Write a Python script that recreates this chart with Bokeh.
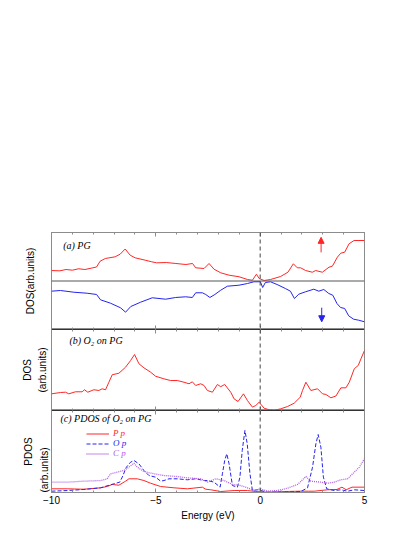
from math import pi
from bokeh.plotting import figure
from bokeh.models import (Range1d, LinearAxis, SingleIntervalTicker, FixedTicker, Span, Label,
                          Arrow, NormalHead, Legend, LegendItem, Title)
from bokeh.layouts import column
from bokeh.embed import file_html
from bokeh.resources import INLINE

# ---------------- data ----------------
energy_range = (-10, 5)
tick_labels = {-10: "\u221210", -5: "\u22125", 0: "0", 5: "5"}

# (a) pristine graphene, spin up / spin down DOS (arb. units)
a_up_E = [-10.0, -9.6, -9.3, -9.0, -8.7, -8.4, -8.1, -7.84, -7.67, -7.42, -6.95, -6.71, -6.47,
          -6.23, -5.99, -5.51, -5.2, -4.96, -4.5, -4.04, -3.56, -3.24, -3.09, -2.69, -2.45,
          -2.21, -1.89, -1.49, -1.01, -0.61, -0.37, -0.18, -0.05, 0.19, 0.5, 0.98, 1.33, 1.59,
          1.78, 1.94, 2.18, 2.5, 2.66, 2.98, 3.3, 3.46, 3.7, 3.86, 4.05, 4.26, 4.5, 5.0]
a_up = [2.16, 2.10, 2.37, 2.23, 2.52, 2.37, 2.64, 2.89, 4.08, 4.64, 4.99, 5.53, 6.60,
        5.32, 4.78, 4.29, 3.96, 3.75, 3.81, 3.61, 3.40, 3.61, 2.72, 2.58, 3.61,
        2.43, 1.69, 1.20, 0.87, 0.31, 0.16, 1.40, 0.52, 0.10, 0.31, 0.93, 1.81, 3.55,
        2.72, 2.72, 2.16, 1.81, 2.16, 1.81, 2.85, 3.05, 4.91, 5.73, 5.94, 7.67, 8.35, 8.35]
a_dn_E = [-10.0, -9.57, -8.93, -8.29, -7.84, -7.65, -7.17, -6.69, -6.45, -6.2, -5.73, -5.17,
          -4.53, -4.05, -3.57, -3.25, -3.09, -2.77, -2.61, -2.41, -2.17, -1.89, -1.57, -1.02,
          -0.61, -0.3, 0.01, 0.12, 0.25, 0.49, 0.81, 1.21, 1.45, 1.64, 1.85, 2.17, 2.57, 2.81,
          3.05, 3.29, 3.48, 3.68, 3.85, 4.05, 4.24, 4.48, 4.72, 5.0]
a_dn = [-2.10, -1.96, -2.31, -2.52, -2.78, -3.88, -4.58, -5.53, -6.43, -5.26, -4.37, -3.46,
        -3.75, -3.40, -3.26, -3.40, -2.43, -2.43, -2.78, -3.40, -2.78, -1.90, -1.07, -0.87,
        -0.52, -0.16, -0.16, -1.34, -0.31, -0.16, -0.72, -1.55, -2.10, -3.61, -2.72, -2.23,
        -1.69, -2.10, -1.75, -2.58, -2.93, -4.64, -5.46, -5.67, -7.18, -7.88, -8.08, -8.41]

# (b) O2 on PG, total DOS
b_E = [-10.0, -9.57, -9.33, -9.17, -8.85, -8.53, -8.42, -8.26, -7.97, -7.73, -7.57, -7.41,
       -7.25, -7.09, -6.77, -6.45, -6.21, -6.02, -5.81, -5.57, -5.25, -5.01, -4.61, -4.29,
       -3.97, -3.65, -3.41, -3.25, -3.09, -2.85, -2.69, -2.53, -2.29, -2.05, -1.89, -1.7,
       -1.41, -1.25, -1.06, -0.8, -0.61, -0.37, -0.21, -0.05, 0.19, 0.43, 0.67, 0.99, 1.31,
       1.63, 1.92, 2.03, 2.19, 2.43, 2.75, 2.99, 3.15, 3.39, 3.63, 3.87, 4.11, 4.27, 4.51,
       4.7, 4.83, 5.0]
b_dos = [2.06, 2.22, 2.26, 2.06, 2.31, 2.31, 2.56, 2.26, 2.56, 2.47, 2.68, 2.56,
         3.49, 4.41, 4.60, 5.35, 6.17, 6.91, 5.77, 5.27, 4.73, 4.23, 3.91, 3.70,
         3.70, 3.49, 3.30, 3.54, 3.09, 3.30, 3.09, 2.47, 2.26, 3.21, 2.94, 3.21,
         2.26, 1.44, 1.11, 2.06, 1.23, 0.41, 0.62, 1.02, 0.28, 0.09, 0.02, 0.21, 0.49,
         0.90, 1.64, 2.47, 3.49, 2.47, 2.68, 2.06, 1.98, 1.57, 1.79, 2.80, 2.80, 3.49, 5.15,
         5.56, 6.38, 7.41]

# (c) PDOS of O2 on PG
c_P_E = [-10.0, -9.25, -8.45, -7.65, -7.33, -7.09, -6.77, -6.45, -6.29, -5.89, -5.57, -5.25,
         -4.77, -4.13, -3.49, -2.77, -2.61, -2.37, -1.89, -1.25, -0.61, -0.21, 0.35, 1.15,
         1.95, 2.59, 3.23, 3.68, 3.92, 4.12, 4.4, 5.0]
c_P = [0.45, 0.45, 0.40, 0.57, 0.73, 0.98, 0.89, 1.38, 1.67, 1.67, 1.46, 1.13,
       0.73, 0.57, 0.45, 0.65, 0.40, 0.33, 0.12, 0.24, 0.24, 0.12, 0.04, 0.12,
       0.16, 0.16, 0.33, 0.37, 0.65, 0.33, 0.65, 0.65]
c_O_E = [-10.0, -9.25, -8.45, -7.65, -7.01, -6.73, -6.61, -6.41, -6.21, -6.05, -5.81, -5.57,
         -5.33, -5.01, -4.77, -4.61, -4.37, -3.97, -3.49, -3.09, -2.69, -2.53, -2.21, -1.92,
         -1.81, -1.7, -1.6, -1.49, -1.33, -1.09, -0.97, -0.86, -0.73, -0.62, -0.49, -0.37,
         -0.13, 0.03, 0.35, 1.15, 1.95, 2.27, 2.51, 2.67, 2.78, 2.91, 3.03, 3.19, 3.55, 3.87,
         4.19, 4.51, 5.0]
c_O = [0.16, 0.24, 0.37, 0.57, 1.06, 1.26, 1.87, 3.09, 3.70, 3.90, 3.50, 2.68,
       2.07, 1.87, 1.38, 1.46, 1.67, 1.67, 1.55, 1.67, 1.46, 1.46, 1.26, 0.65,
       2.28, 3.90, 4.72, 3.50, 0.85, 0.65, 1.87, 5.12, 7.56, 5.94, 2.28, 0.24,
       0.33, 0.24, 0.04, 0.04, 0.12, 0.57, 3.09, 5.94, 7.07, 5.52, 1.87, 0.45, 0.24, 0.33,
       0.16, 0.33, 0.24]
c_C_E = [-10.0, -9.25, -8.45, -7.65, -7.33, -7.17, -6.85, -6.53, -6.29, -6.05, -5.89, -5.57,
         -5.09, -4.61, -3.97, -3.49, -2.85, -2.53, -2.13, -1.73, -1.33, -0.93, -0.61, -0.29,
         0.0, 0.35, 0.83, 1.31, 1.79, 2.03, 2.19, 2.43, 2.91, 3.23, 3.55, 3.87, 4.19, 4.51,
         4.75, 5.0]
c_C = [1.26, 1.26, 1.38, 1.46, 1.67, 2.28, 2.48, 2.68, 3.09, 3.57, 3.09, 2.56,
       2.28, 2.07, 1.95, 1.79, 1.67, 1.26, 1.67, 1.46, 0.98, 0.85, 0.57, 0.24,
       0.45, 0.16, 0.24, 0.52, 0.98, 1.55, 1.95, 1.38, 1.26, 1.13, 1.26, 1.55, 1.67, 2.48,
       3.09, 4.11]

legend_names = ["P p", "O p", "C p"]

# ---------------- styling ----------------
SANS = "Liberation Sans"
SERIF = "Liberation Serif"
RED = "#ff2626"
BLUE = "#2424ee"
PURPLE = "#b060e6"
FRAME = "#8c8c8c"
DARK = "#333333"
FS = "10px"


def make_fig(frame_h, y_range, top, bottom):
    p = figure(frame_width=313, frame_height=frame_h,
               x_range=Range1d(*energy_range), y_range=Range1d(*y_range),
               x_axis_location=None, y_axis_location=None,
               toolbar_location=None, output_backend="svg",
               min_border_left=51, min_border_right=12,
               min_border_top=top, min_border_bottom=bottom)
    p.grid.visible = False
    p.outline_line_color = FRAME
    p.background_fill_color = "white"
    p.border_fill_color = "white"
    return p


def add_xaxis(p, place, line_color=FRAME, labels=False):
    ax = LinearAxis(ticker=SingleIntervalTicker(interval=5, num_minor_ticks=5))
    ax.major_tick_in = 4
    ax.major_tick_out = 0
    ax.minor_tick_in = 2
    ax.minor_tick_out = 0
    ax.axis_line_color = line_color
    ax.major_tick_line_color = FRAME
    ax.minor_tick_line_color = FRAME
    if labels:
        ax.major_label_overrides = tick_labels
        ax.major_label_text_font = SANS
        ax.major_label_text_font_size = FS
        ax.major_label_text_color = "black"
        ax.major_label_standoff = 3
        ax.axis_label = "Energy (eV)"
        ax.axis_label_text_font = SANS
        ax.axis_label_text_font_size = FS
        ax.axis_label_text_font_style = "normal"
        ax.axis_label_text_color = "black"
        ax.axis_label_standoff = 3
    else:
        ax.major_label_overrides = {k: "" for k in tick_labels}
        ax.major_label_text_font_size = "0px"
        ax.major_label_standoff = 0
    p.add_layout(ax, place)


def ylab(p, text, standoff):
    # label-only axis on the left
    ax = LinearAxis(ticker=FixedTicker(ticks=[]))
    ax.axis_line_color = None
    ax.major_tick_line_color = None
    ax.minor_tick_line_color = None
    ax.major_tick_in = 0
    ax.major_tick_out = 0
    ax.minor_tick_in = 0
    ax.minor_tick_out = 0
    ax.major_label_text_font_size = "0px"
    ax.major_label_standoff = 0
    ax.axis_label = text
    ax.axis_label_text_font = SANS
    ax.axis_label_text_font_size = FS
    ax.axis_label_text_font_style = "normal"
    ax.axis_label_text_color = "black"
    ax.axis_label_standoff = standoff
    p.add_layout(ax, "left")


def zero_line(p):
    p.add_layout(Span(location=0, dimension="height", line_color="#444444",
                      line_dash="4 3", line_width=1))


def panel_title(p, text, x, y):
    p.add_layout(Label(x=x, y=y, text=text, text_align="left", text_baseline="middle",
                       text_font=SERIF, text_font_style="italic", text_font_size=FS,
                       text_color="black"))


# ---------------- panel (a) ----------------
pa = make_fig(97, (-10, 10), 232, 0)
add_xaxis(pa, "above")
add_xaxis(pa, "below", line_color=DARK)
ylab(pa, "DOS(arb.units)", 16)
pa.add_layout(Span(location=0, dimension="width", line_color="#555555", line_width=1))
zero_line(pa)
pa.line(a_up_E, a_up, line_color=RED, line_width=1)
pa.line(a_dn_E, a_dn, line_color=BLUE, line_width=1)
pa.add_layout(Arrow(x_start=2.92, y_start=5.9, x_end=2.92, y_end=9.0,
                    line_color=RED, line_width=1,
                    end=NormalHead(size=6, fill_color=RED, line_color=RED)))
pa.add_layout(Arrow(x_start=2.95, y_start=-5.5, x_end=2.95, y_end=-8.4,
                    line_color=BLUE, line_width=1,
                    end=NormalHead(size=6, fill_color=BLUE, line_color=BLUE)))
panel_title(pa, "(a) PG", -9.44, 7.3)

# ---------------- panel (b) ----------------
pb = make_fig(81, (0, 10), 0, 0)
add_xaxis(pb, "above", line_color=DARK)
add_xaxis(pb, "below", line_color=DARK)
ylab(pb, "(arb.units)", 4)
ylab(pb, "DOS", 1)
zero_line(pb)
pb.line(b_E, b_dos, line_color=RED, line_width=1)
panel_title(pb, "(b) O\u2082 on PG", -9.14, 8.6)

# ---------------- panel (c) ----------------
pc = make_fig(82, (0, 10), 0, 32)
add_xaxis(pc, "above", line_color=DARK)
add_xaxis(pc, "below", labels=True)
pc.add_layout(Title(text="(arb.units)", align="left", offset=0, standoff=4,
                    text_font=SANS, text_font_size=FS, text_font_style="normal",
                    text_color="black"), "left")
ylab(pc, "PDOS", 1)
zero_line(pc)
rP = pc.line(c_P_E, c_P, line_color=RED, line_width=1)
rO = pc.line(c_O_E, c_O, line_color=BLUE, line_width=1, line_dash="4 2")
rC = pc.line(c_C_E, c_C, line_color=PURPLE, line_width=1.3, line_dash="1 1")
panel_title(pc, "(c) PDOS of O\u2082 on PG", -9.57, 9.05)

for r, name, col, vy in [(rP, legend_names[0], RED, 54),
                         (rO, legend_names[1], BLUE, 44),
                         (rC, legend_names[2], PURPLE, 34)]:
    lg = Legend(items=[LegendItem(label=name, renderers=[r])], location=(35, vy),
                border_line_color=None, background_fill_alpha=0, margin=0, padding=0,
                glyph_width=23, glyph_height=9, label_height=9, label_standoff=4,
                spacing=0, label_text_color=col, label_text_font=SERIF,
                label_text_font_style="italic", label_text_font_size="9px")
    pc.add_layout(lg)

layout = column(pa, pb, pc)
open("out.html", "w").write(file_html(layout, INLINE))
